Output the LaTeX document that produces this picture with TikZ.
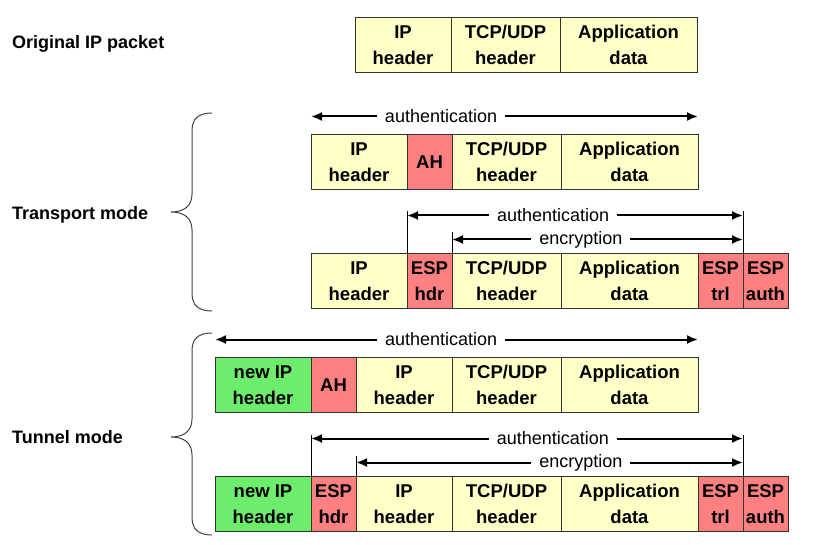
\documentclass[tikz,border=0pt]{standalone}
\usepackage{fontspec}
\setmainfont{Liberation Sans}
\usepackage{tikz}
\usetikzlibrary{positioning,arrows.meta}

\definecolor{fieldyellow}{HTML}{FFFFC8}
\definecolor{fieldred}{HTML}{FF8080}
\definecolor{fieldgreen}{HTML}{6CEE6C}

\tikzset{
    field/.style={rectangle, draw=black!80, line width=1pt, minimum height=55pt, inner sep=0pt, outer sep=0pt, align=center, font=\fontsize{18.5}{26}\selectfont\bfseries},
    plainfield/.style={field, fill=fieldyellow},
    secfield/.style={field, fill=fieldred},
    newfield/.style={field, fill=fieldgreen},
    spanarrow/.style={{Latex[length=11pt,width=9pt]}-{Latex[length=11pt,width=9pt]}, line width=2pt},
    tickline/.style={line width=0.8pt},
    spanlabel/.style={fill=white, inner xsep=8pt, inner ysep=1pt, font=\fontsize{18}{22}\selectfont},
    modelabel/.style={anchor=west, inner sep=0pt, font=\fontsize{18}{22}\selectfont\bfseries},
    bracket/.style={line width=1pt, black!75}
}

\begin{document}
\begin{tikzpicture}[x=1pt, y=1pt]
    \useasboundingbox (0,0) rectangle (816,544);

    % Labels on the left
    \node[modelabel] (orig-label) at (12,500) {Original IP packet};
    \node[modelabel] (transport-label) at (12,329) {Transport mode};
    \node[modelabel] (tunnel-label) at (12,107) {Tunnel mode};

    % Curly brackets
    \draw[bracket] (212,431) .. controls (198,431) and (192,425) .. (192,413) -- (192,350)
        .. controls (192,338) and (184,332) .. (171,332)
        .. controls (184,332) and (192,326) .. (192,314) -- (192,251)
        .. controls (192,239) and (198,233) .. (212,233);
    \draw[bracket] (212,211) .. controls (198,211) and (192,205) .. (192,193) -- (192,125)
        .. controls (192,113) and (184,107) .. (171,107)
        .. controls (184,107) and (192,101) .. (192,89) -- (192,27)
        .. controls (192,15) and (198,9) .. (212,9);

    % Original IP packet
    \node[plainfield, minimum width=96pt, anchor=west] (ip-orig) at (355,499) {IP\\header};
    \node[plainfield, minimum width=109pt, right=0pt of ip-orig] (tcp-orig) {TCP/UDP\\header};
    \node[plainfield, minimum width=137pt, right=0pt of tcp-orig] (app-orig) {Application\\data};

    % Transport mode with AH
    \node[plainfield, minimum width=96pt, anchor=west] (ip-tah) at (311,382) {IP\\header};
    \node[secfield, minimum width=45pt, right=0pt of ip-tah] (ah-tah) {AH};
    \node[plainfield, minimum width=109pt, right=0pt of ah-tah] (tcp-tah) {TCP/UDP\\header};
    \node[plainfield, minimum width=137pt, right=0pt of tcp-tah] (app-tah) {Application\\data};

    \draw[spanarrow] ([yshift=18pt]ip-tah.north west) -- ([yshift=18pt]app-tah.north east)
        node[spanlabel, pos=0.336] {authentication};

    % Transport mode with ESP
    \node[plainfield, minimum width=96pt, anchor=west] (ip-tesp) at (311,263) {IP\\header};
    \node[secfield, minimum width=45pt, right=0pt of ip-tesp] (hdr-tesp) {ESP\\hdr};
    \node[plainfield, minimum width=109pt, right=0pt of hdr-tesp] (tcp-tesp) {TCP/UDP\\header};
    \node[plainfield, minimum width=137pt, right=0pt of tcp-tesp] (app-tesp) {Application\\data};
    \node[secfield, minimum width=45pt, right=0pt of app-tesp] (trl-tesp) {ESP\\trl};
    \node[secfield, minimum width=45pt, right=0pt of trl-tesp] (auth-tesp) {ESP\\auth};

    \draw[tickline] (hdr-tesp.north west) -- ([yshift=42pt]hdr-tesp.north west);
    \draw[tickline] (tcp-tesp.north west) -- ([yshift=21pt]tcp-tesp.north west);
    \draw[tickline] (trl-tesp.north east) -- ([yshift=42pt]trl-tesp.north east);
    \draw[spanarrow] ([yshift=38pt]hdr-tesp.north west) -- ([yshift=38pt]trl-tesp.north east)
        node[spanlabel, pos=0.435] {authentication};
    \draw[spanarrow] ([yshift=14pt]tcp-tesp.north west) -- ([yshift=14pt]trl-tesp.north east)
        node[spanlabel, pos=0.443] {encryption};

    % Tunnel mode with AH
    \node[newfield, minimum width=96pt, anchor=west] (new-nah) at (215,159) {new IP\\header};
    \node[secfield, minimum width=45pt, right=0pt of new-nah] (ah-nah) {AH};
    \node[plainfield, minimum width=96pt, right=0pt of ah-nah] (ip-nah) {IP\\header};
    \node[plainfield, minimum width=109pt, right=0pt of ip-nah] (tcp-nah) {TCP/UDP\\header};
    \node[plainfield, minimum width=137pt, right=0pt of tcp-nah] (app-nah) {Application\\data};

    \draw[spanarrow] ([yshift=18pt]new-nah.north west) -- ([yshift=18pt]app-nah.north east)
        node[spanlabel, pos=0.468] {authentication};

    % Tunnel mode with ESP
    \node[newfield, minimum width=96pt, anchor=west] (new-nesp) at (215,40) {new IP\\header};
    \node[secfield, minimum width=45pt, right=0pt of new-nesp] (hdr-nesp) {ESP\\hdr};
    \node[plainfield, minimum width=96pt, right=0pt of hdr-nesp] (ip-nesp) {IP\\header};
    \node[plainfield, minimum width=109pt, right=0pt of ip-nesp] (tcp-nesp) {TCP/UDP\\header};
    \node[plainfield, minimum width=137pt, right=0pt of tcp-nesp] (app-nesp) {Application\\data};
    \node[secfield, minimum width=45pt, right=0pt of app-nesp] (trl-nesp) {ESP\\trl};
    \node[secfield, minimum width=45pt, right=0pt of trl-nesp] (auth-nesp) {ESP\\auth};

    \draw[tickline] (hdr-nesp.north west) -- ([yshift=42pt]hdr-nesp.north west);
    \draw[tickline] (ip-nesp.north west) -- ([yshift=21pt]ip-nesp.north west);
    \draw[tickline] (trl-nesp.north east) -- ([yshift=42pt]trl-nesp.north east);
    \draw[spanarrow] ([yshift=38pt]hdr-nesp.north west) -- ([yshift=38pt]trl-nesp.north east)
        node[spanlabel, pos=0.56] {authentication};
    \draw[spanarrow] ([yshift=14pt]ip-nesp.north west) -- ([yshift=14pt]trl-nesp.north east)
        node[spanlabel, pos=0.581] {encryption};

\end{tikzpicture}
\end{document}
